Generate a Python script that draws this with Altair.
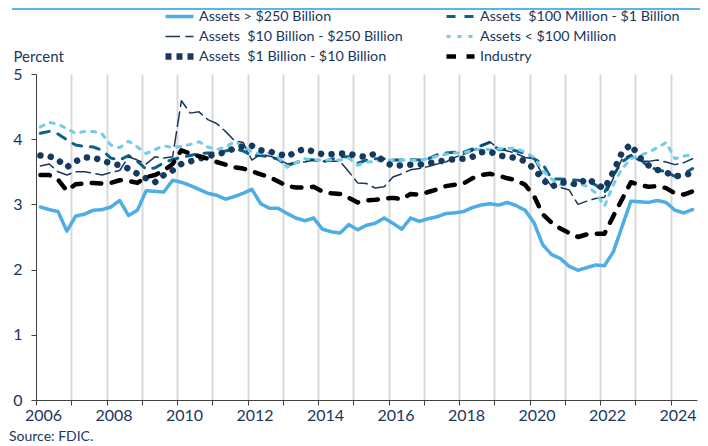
import altair as alt
import pandas as pd

series_names = [
    "Assets > $250 Billion",
    "Assets\u00a0 $100 Million - $1 Billion",
    "Assets\u00a0 $10 Billion - $250 Billion",
    "Assets < $100 Million",
    "Assets\u00a0 $1 Billion - $10 Billion",
    "Industry",
]

first_year = 2006  # quarterly data, 2006Q1 .. 2024Q3

assets_over_250b = [
    2.96, 2.92, 2.89, 2.59, 2.82, 2.85, 2.91, 2.92, 2.96, 3.06,
    2.83, 2.91, 3.21, 3.20, 3.19, 3.37, 3.34, 3.29, 3.23, 3.17,
    3.14, 3.08, 3.12, 3.17, 3.23, 3.01, 2.94, 2.94, 2.86, 2.79,
    2.75, 2.79, 2.62, 2.58, 2.56, 2.69, 2.61, 2.68, 2.71, 2.79,
    2.71, 2.62, 2.79, 2.74, 2.78, 2.81, 2.86, 2.87, 2.89, 2.95,
    2.99, 3.01, 2.99, 3.03, 2.98, 2.91, 2.72, 2.38, 2.23, 2.17,
    2.05, 1.99, 2.03, 2.07, 2.06, 2.27, 2.66, 3.05, 3.04, 3.03,
    3.06, 3.03, 2.91, 2.87, 2.92,
]
assets_100m_1b = [
    4.09, 4.12, 4.08, 3.99, 3.91, 3.89, 3.88, 3.83, 3.71, 3.68,
    3.75, 3.66, 3.54, 3.56, 3.64, 3.69, 3.72, 3.75, 3.78, 3.79,
    3.79, 3.82, 3.85, 3.82, 3.75, 3.75, 3.73, 3.69, 3.60, 3.64,
    3.69, 3.68, 3.65, 3.69, 3.73, 3.73, 3.63, 3.68, 3.70, 3.70,
    3.68, 3.68, 3.69, 3.68, 3.70, 3.76, 3.79, 3.80, 3.80, 3.85,
    3.90, 3.95, 3.84, 3.85, 3.82, 3.78, 3.70, 3.62, 3.39, 3.39,
    3.38, 3.37, 3.35, 3.30, 3.18, 3.45, 3.65, 3.75, 3.70, 3.58,
    3.53, 3.50, 3.43, 3.47, 3.55,
]
assets_10b_250b = [
    3.59, 3.62, 3.50, 3.45, 3.50, 3.50, 3.48, 3.45, 3.49, 3.52,
    3.73, 3.68, 3.62, 3.73, 3.71, 3.73, 4.59, 4.40, 4.42, 4.30,
    4.24, 4.12, 3.98, 3.95, 3.68, 3.77, 3.74, 3.70, 3.62, 3.64,
    3.65, 3.68, 3.66, 3.66, 3.66, 3.50, 3.33, 3.32, 3.25, 3.27,
    3.42, 3.47, 3.53, 3.55, 3.58, 3.62, 3.65, 3.72, 3.77, 3.82,
    3.90, 3.96, 3.85, 3.82, 3.78, 3.72, 3.70, 3.45, 3.28, 3.26,
    3.22, 3.00, 3.05, 3.09, 3.11, 3.40, 3.70, 3.76, 3.66, 3.66,
    3.68, 3.65, 3.61, 3.64, 3.70,
]
assets_under_100m = [
    4.19, 4.26, 4.23, 4.16, 4.09, 4.12, 4.12, 4.08, 3.91, 3.87,
    3.97, 3.88, 3.78, 3.84, 3.90, 3.87, 3.89, 3.92, 3.96, 3.88,
    3.84, 3.88, 3.96, 3.90, 3.80, 3.78, 3.79, 3.72, 3.57, 3.64,
    3.70, 3.68, 3.68, 3.68, 3.68, 3.71, 3.60, 3.65, 3.66, 3.68,
    3.68, 3.68, 3.68, 3.68, 3.70, 3.74, 3.77, 3.79, 3.79, 3.83,
    3.85, 3.84, 3.85, 3.86, 3.86, 3.80, 3.72, 3.52, 3.39, 3.30,
    3.30, 3.32, 3.28, 3.18, 2.97, 3.30, 3.55, 3.70, 3.75, 3.80,
    3.87, 3.95, 3.70, 3.74, 3.76,
]
assets_1b_10b = [
    3.75, 3.74, 3.68, 3.57, 3.66, 3.72, 3.72, 3.67, 3.63, 3.60,
    3.55, 3.47, 3.40, 3.34, 3.45, 3.52, 3.62, 3.66, 3.70, 3.74,
    3.77, 3.80, 3.86, 3.89, 3.90, 3.83, 3.81, 3.78, 3.73, 3.81,
    3.85, 3.81, 3.77, 3.77, 3.78, 3.78, 3.74, 3.73, 3.78, 3.65,
    3.59, 3.60, 3.61, 3.61, 3.63, 3.65, 3.68, 3.69, 3.70, 3.73,
    3.80, 3.81, 3.75, 3.73, 3.71, 3.66, 3.55, 3.38, 3.27, 3.34,
    3.33, 3.30, 3.40, 3.32, 3.24, 3.50, 3.80, 3.92, 3.72, 3.60,
    3.53, 3.49, 3.43, 3.45, 3.48,
]
industry = [
    3.45, 3.45, 3.38, 3.21, 3.31, 3.32, 3.33, 3.32, 3.33, 3.37,
    3.36, 3.33, 3.42, 3.45, 3.52, 3.62, 3.83, 3.78, 3.74, 3.70,
    3.65, 3.61, 3.57, 3.55, 3.51, 3.46, 3.42, 3.35, 3.28, 3.26,
    3.26, 3.27, 3.20, 3.17, 3.16, 3.10, 3.03, 3.06, 3.07, 3.09,
    3.10, 3.08, 3.16, 3.15, 3.19, 3.23, 3.28, 3.30, 3.32, 3.40,
    3.45, 3.47, 3.44, 3.40, 3.37, 3.30, 3.13, 2.85, 2.72, 2.63,
    2.56, 2.50, 2.54, 2.55, 2.55, 2.82, 3.08, 3.34, 3.30, 3.27,
    3.28, 3.25, 3.17, 3.15, 3.20,
]

series_values = [assets_over_250b, assets_100m_1b, assets_10b_250b,
                 assets_under_100m, assets_1b_10b, industry]

year_ticks = list(range(2006, 2025))

colors = ["#4FADE5", "#0B6187", "#1B365D", "#74CBE6", "#163A5F", "#000000"]
# dash patterns (lines are drawn with round caps); the dotted series'
# entry here is what its legend symbol shows
dashes = [[1, 0], [9, 9], [14.5, 5.5], [4, 7], [6, 5], [9.5, 10.5]]
widths = [3.5, 3, 1.5, 3, 6.5, 4.5]
dotted_name = series_names[4]
dotted_dash = [0.01, 10.5]

rows = []
for name, vals in zip(series_names, series_values):
    for i, v in enumerate(vals):
        # mid-quarter position on a decimal-year axis
        rows.append({"series": name, "t": first_year + (i + 0.5) / 4, "v": v})
df = pd.DataFrame(rows)

TXT = "#1B365D"
FONT = "Lato"
W, H = 661, 326

leg = alt.Legend(
    title=None, orient="none", legendX=126, legendY=-66, columns=2,
    direction="horizontal", clipHeight=17,
    symbolType="stroke", symbolSize=784, labelFontSize=14.3, labelFont=FONT,
    labelColor=TXT, columnPadding=40, rowPadding=3, labelOffset=2,
    labelLimit=400,
)

x_enc = alt.X("t:Q", scale=alt.Scale(domain=[2006, 2024.75], nice=False, zero=False),
              axis=alt.Axis(values=year_ticks, format="d",
                            labelExpr="datum.value % 2 == 0 ? datum.label : ''",
                            title=None, grid=True,
                            gridColor=alt.condition("datum.value == 2006", alt.value("transparent"), alt.value("#D9D9D9")),
                            gridWidth=2, tickSize=5, tickColor="#404040",
                            domainColor="#404040", labelFontSize=16, labelFont=FONT,
                            labelColor=TXT, labelOffset=7, labelPadding=2,
                            labelFlush=False, labelOverlap=False))
y_enc = alt.Y("v:Q", scale=alt.Scale(domain=[0, 5], nice=False),
              axis=alt.Axis(values=[0, 1, 2, 3, 4, 5], format="d", grid=False, tickSize=5,
                            tickColor="#404040", domainColor="#404040",
                            labelFontSize=16, labelFont=FONT, labelColor=TXT,
                            labelPadding=9, title="Percent", titleAngle=0,
                            titleAlign="left", titleBaseline="alphabetic",
                            titleX=-23, titleY=-13, titleFontSize=15,
                            titleFontWeight="normal", titleFont=FONT, titleColor=TXT))
enc = dict(
    x=x_enc, y=y_enc,
    color=alt.Color("series:N", scale=alt.Scale(domain=series_names, range=colors), legend=leg),
    strokeDash=alt.StrokeDash("series:N", scale=alt.Scale(domain=series_names, range=dashes), legend=leg),
    strokeWidth=alt.StrokeWidth("series:N", scale=alt.Scale(type="ordinal", domain=series_names, range=widths), legend=leg),
)

base = alt.Chart(df)
others = base.transform_filter(
    alt.FieldOneOfPredicate(field="series", oneOf=series_names[:4])
).mark_line(strokeCap="round", strokeJoin="round").encode(**enc)

dots = base.transform_filter(
    alt.FieldEqualPredicate(field="series", equal=dotted_name)
).mark_line(strokeCap="round", strokeJoin="round", strokeDash=dotted_dash,
            strokeWidth=widths[4], color=colors[4]).encode(x=x_enc, y=y_enc)

industry_line = base.transform_filter(
    alt.FieldEqualPredicate(field="series", equal=series_names[5])
).mark_line(strokeCap="round", strokeJoin="round").encode(**enc)

one = pd.DataFrame({"k": [0]})
top_rule = alt.Chart(one).mark_rule(color="#5BB5E6", strokeWidth=2).encode(
    x=alt.value(-24), x2=alt.value(W + 3), y=alt.value(-65)
)
source = alt.Chart(one).mark_text(align="left", baseline="alphabetic", font=FONT,
                                  fontSize=14, color=TXT).encode(
    x=alt.value(-27), y=alt.value(H + 41), text=alt.value("Source: FDIC.")
)

chart = alt.layer(others, dots, industry_line, top_rule, source).properties(
    width=W, height=H,
    padding={"left": 28, "top": 66, "right": 3, "bottom": 44},
    autosize=alt.AutoSizeParams(type="none"),
).configure_view(stroke=None)

chart.save("out.html", embed_options={"renderer": "svg", "actions": False})
